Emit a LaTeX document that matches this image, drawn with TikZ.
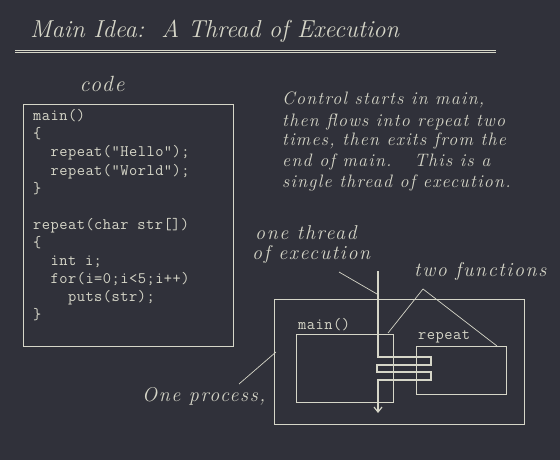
\documentclass[tikz,border=0pt]{standalone}
\usepackage{fontspec}
\newfontfamily\codefont[LetterSpace=3]{Latin Modern Mono}
\newfontfamily\handfont[LetterSpace=7]{Latin Modern Roman}
\newfontfamily\labelfont[LetterSpace=8]{Latin Modern Roman}
\usetikzlibrary{arrows.meta}
\definecolor{bg}{RGB}{48,49,58}
\definecolor{fg}{RGB}{214,214,200}
\begin{document}
\begin{tikzpicture}[x=1pt,y=-1pt,
  hand/.style={text=fg,inner sep=0pt,font=\handfont\itshape\fontsize{18}{20}\selectfont},
  label/.style={text=fg,inner sep=0pt,font=\labelfont\itshape\fontsize{20}{22}\selectfont},
  code/.style={text=fg,inner sep=0pt,anchor=base west,font=\codefont\fontsize{16}{18}\selectfont},
  box/.style={draw=fg,line width=0.9pt,inner sep=0pt},
  pointer/.style={draw=fg,line width=0.7pt},
  thread/.style={draw=fg,line width=2.6pt,line join=miter}]
\fill[bg] (0,0) rectangle (560,460);
\useasboundingbox (0,0) rectangle (560,460);
% title
\node[text=fg,inner sep=0pt,anchor=base west,font=\itshape\fontsize{24.5}{28}\selectfont] (title) at (30,38) {Main Idea:\ \ A Thread of Execution};
\draw[fg,line width=0.8pt] (15,50.2) -- (496,50.2);
\draw[fg,line width=0.8pt] (15,52.6) -- (496,52.6);
% code
\node[label,anchor=base,font=\labelfont\itshape\fontsize{22}{24}\selectfont] (codelbl) at (102,92) {code};
\node[box,anchor=north west,minimum width=210pt,minimum height=242pt] (codebox) at (23,104) {};
\node[code] (c1) at (33,121) {main()};
\node[code] (c2) at (33,139) {\{};
\node[code] (c3) at (33,157) {\ \ repeat("Hello");};
\node[code] (c4) at (33,175) {\ \ repeat("World");};
\node[code] (c5) at (33,193) {\}};
\node[code] (c6) at (33,229) {repeat(char str[])};
\node[code] (c7) at (33,247) {\{};
\node[code] (c8) at (33,265) {\ \ int i;};
\node[code] (c9) at (33,283) {\ \ for(i=0;i<5;i++)};
\node[code] (c10) at (33,301) {\ \ \ \ puts(str);};
\node[code] (c11) at (33,319) {\}};
% explanation
\node[hand,anchor=base west] (e1) at (282,105) {Control starts in main,};
\node[hand,anchor=base west] (e2) at (282,126) {then flows into repeat two};
\node[hand,anchor=base west] (e3) at (282,146) {times, then exits from the};
\node[hand,anchor=base west] (e4) at (282,166) {end of main.\ \ \ This is a};
\node[hand,anchor=base west] (e5) at (282,187) {single thread of execution.};
% process diagram
\node[box,anchor=north west,minimum width=250pt,minimum height=125pt] (proc) at (274,299) {};
\node[box,anchor=north west,minimum width=97pt,minimum height=68pt] (mainbox) at (296,334) {};
\node[box,anchor=north west,minimum width=90pt,minimum height=48pt] (repbox) at (416,346) {};
\node[code,anchor=base west] (mainlbl) at (298,329) {main()};
\node[code,anchor=base west] (replbl) at (418,339) {repeat};
% labels
\node[label,anchor=base west] (lt1) at (255,239) {one thread};
\node[label,anchor=base west] (lt2) at (252,259) {of execution};
\node[label,anchor=base west] (ltf) at (414,276) {two functions};
\node[label,anchor=base west] (ltp) at (142,401) {One process,};
% thread
\coordinate (t0) at (378,271);
\coordinate (t1) at (378,413);
\draw[thread,-{Straight Barb[length=5pt,width=8pt,line width=1.2pt]}] (t0) -- (378,357) -- (431,357) -- (431,365) -- (377,365) -- (377,372) -- (431,372) -- (431,380) -- (378,380) -- (t1);
% pointers
\coordinate (pe0) at (339,272);
\coordinate (pe1) at (377,294);
\draw[pointer] (pe0) -- (pe1);
\coordinate (pf0) at (423,289);
\coordinate (pf1) at (388,333);
\coordinate (pf2) at (497,346);
\draw[pointer] (pf1) -- (pf0) -- (pf2);
\coordinate (pp0) at (239,384);
\coordinate (pp1) at (276,352);
\draw[pointer] (pp0) -- (pp1);
\end{tikzpicture}
\end{document}
